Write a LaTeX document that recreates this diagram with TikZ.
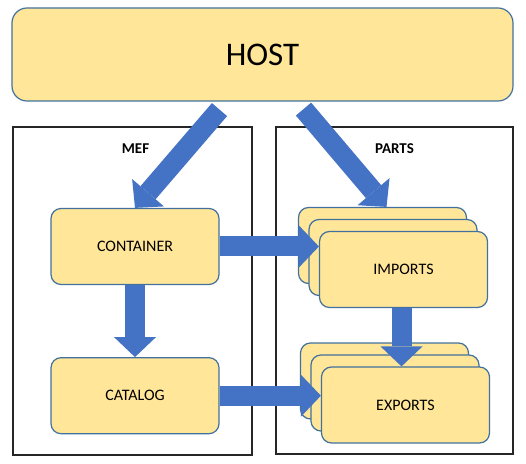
\documentclass[tikz,border=0pt]{standalone}
\usepackage{fontspec}
\setmainfont{Carlito}
\usepackage{tikz}
\usetikzlibrary{arrows.meta,positioning,calc}
\definecolor{boxfill}{HTML}{FFE699}
\definecolor{boxline}{HTML}{41719C}
\definecolor{arrowblue}{HTML}{4472C4}

\begin{document}
\begin{tikzpicture}[x=1pt, y=1pt]
% STYLES
\tikzset{
    rbox/.style={rectangle, rounded corners=10pt, draw=boxline, fill=boxfill,
    line width=1.2pt, minimum width=168pt, minimum height=76pt, inner sep=0pt,
    align=center, font=\fontsize{16}{19}\selectfont},
    group/.style={rectangle, draw=black!85, line width=1.3pt, inner sep=0pt},
    grouptitle/.style={font=\bfseries\fontsize{15}{18}\selectfont},
    fatarrow/.style={draw=arrowblue, line width=20pt,
    -{Triangle[length=20pt,width=42pt,line width=0pt]}}
}
\useasboundingbox (0,0) rectangle (526,463);

\node [rbox, rounded corners=15pt, minimum width=501pt, minimum height=93pt,
       font=\fontsize{33}{40}\selectfont] (host) at (262.5,408.5) {HOST};

% the two groups
\node [group, minimum width=239pt, minimum height=328pt] (mef) at (132.5,172) {};
\node [group, minimum width=237pt, minimum height=327pt] (parts) at (394.5,172.5) {};
\node [grouptitle] (meftitle) at ([xshift=3pt,yshift=-22pt]mef.north) {MEF};
\node [grouptitle] (partstitle) at ([yshift=-22pt]parts.north) {PARTS};

\node [rbox] (container) at (135,216.5) {CONTAINER};
\node [rbox, below=72pt of container] (catalog) {CATALOG};

% stacked parts
\node [rbox] (importsb) at (382.5,217.5) {};
\node [rbox] (importsm) at ([shift={(10.5pt,-12pt)}]importsb) {};
\node [rbox] (imports) at ([shift={(10.5pt,-12pt)}]importsm) {IMPORTS};
\node [rbox] (exportsb) at (384.5,82) {};
\node [rbox] (exportsm) at ([shift={(10.5pt,-12pt)}]exportsb) {};
\node [rbox] (exports) at ([shift={(10.5pt,-12pt)}]exportsm) {EXPORTS};

\coordinate (hostl) at ([xshift=-43pt,yshift=-8pt]host.south);
\coordinate (hostr) at ([xshift=41pt,yshift=-7.5pt]host.south);

% Draw the links between
\draw [fatarrow] (hostl) -- (container.north);
\draw [fatarrow] (hostr) -- ([xshift=4pt]importsb.north);
\draw [fatarrow] (container.east) -- (container.east -| imports.west);
\draw [fatarrow] (catalog.east) -- (catalog.east -| exports.west);
\draw [fatarrow] (container.south) -- (catalog.north);
\draw [fatarrow] ([xshift=-2pt]imports.south) -- ([xshift=-2pt]imports.south |- exports.north);
\end{tikzpicture}
\end{document}
